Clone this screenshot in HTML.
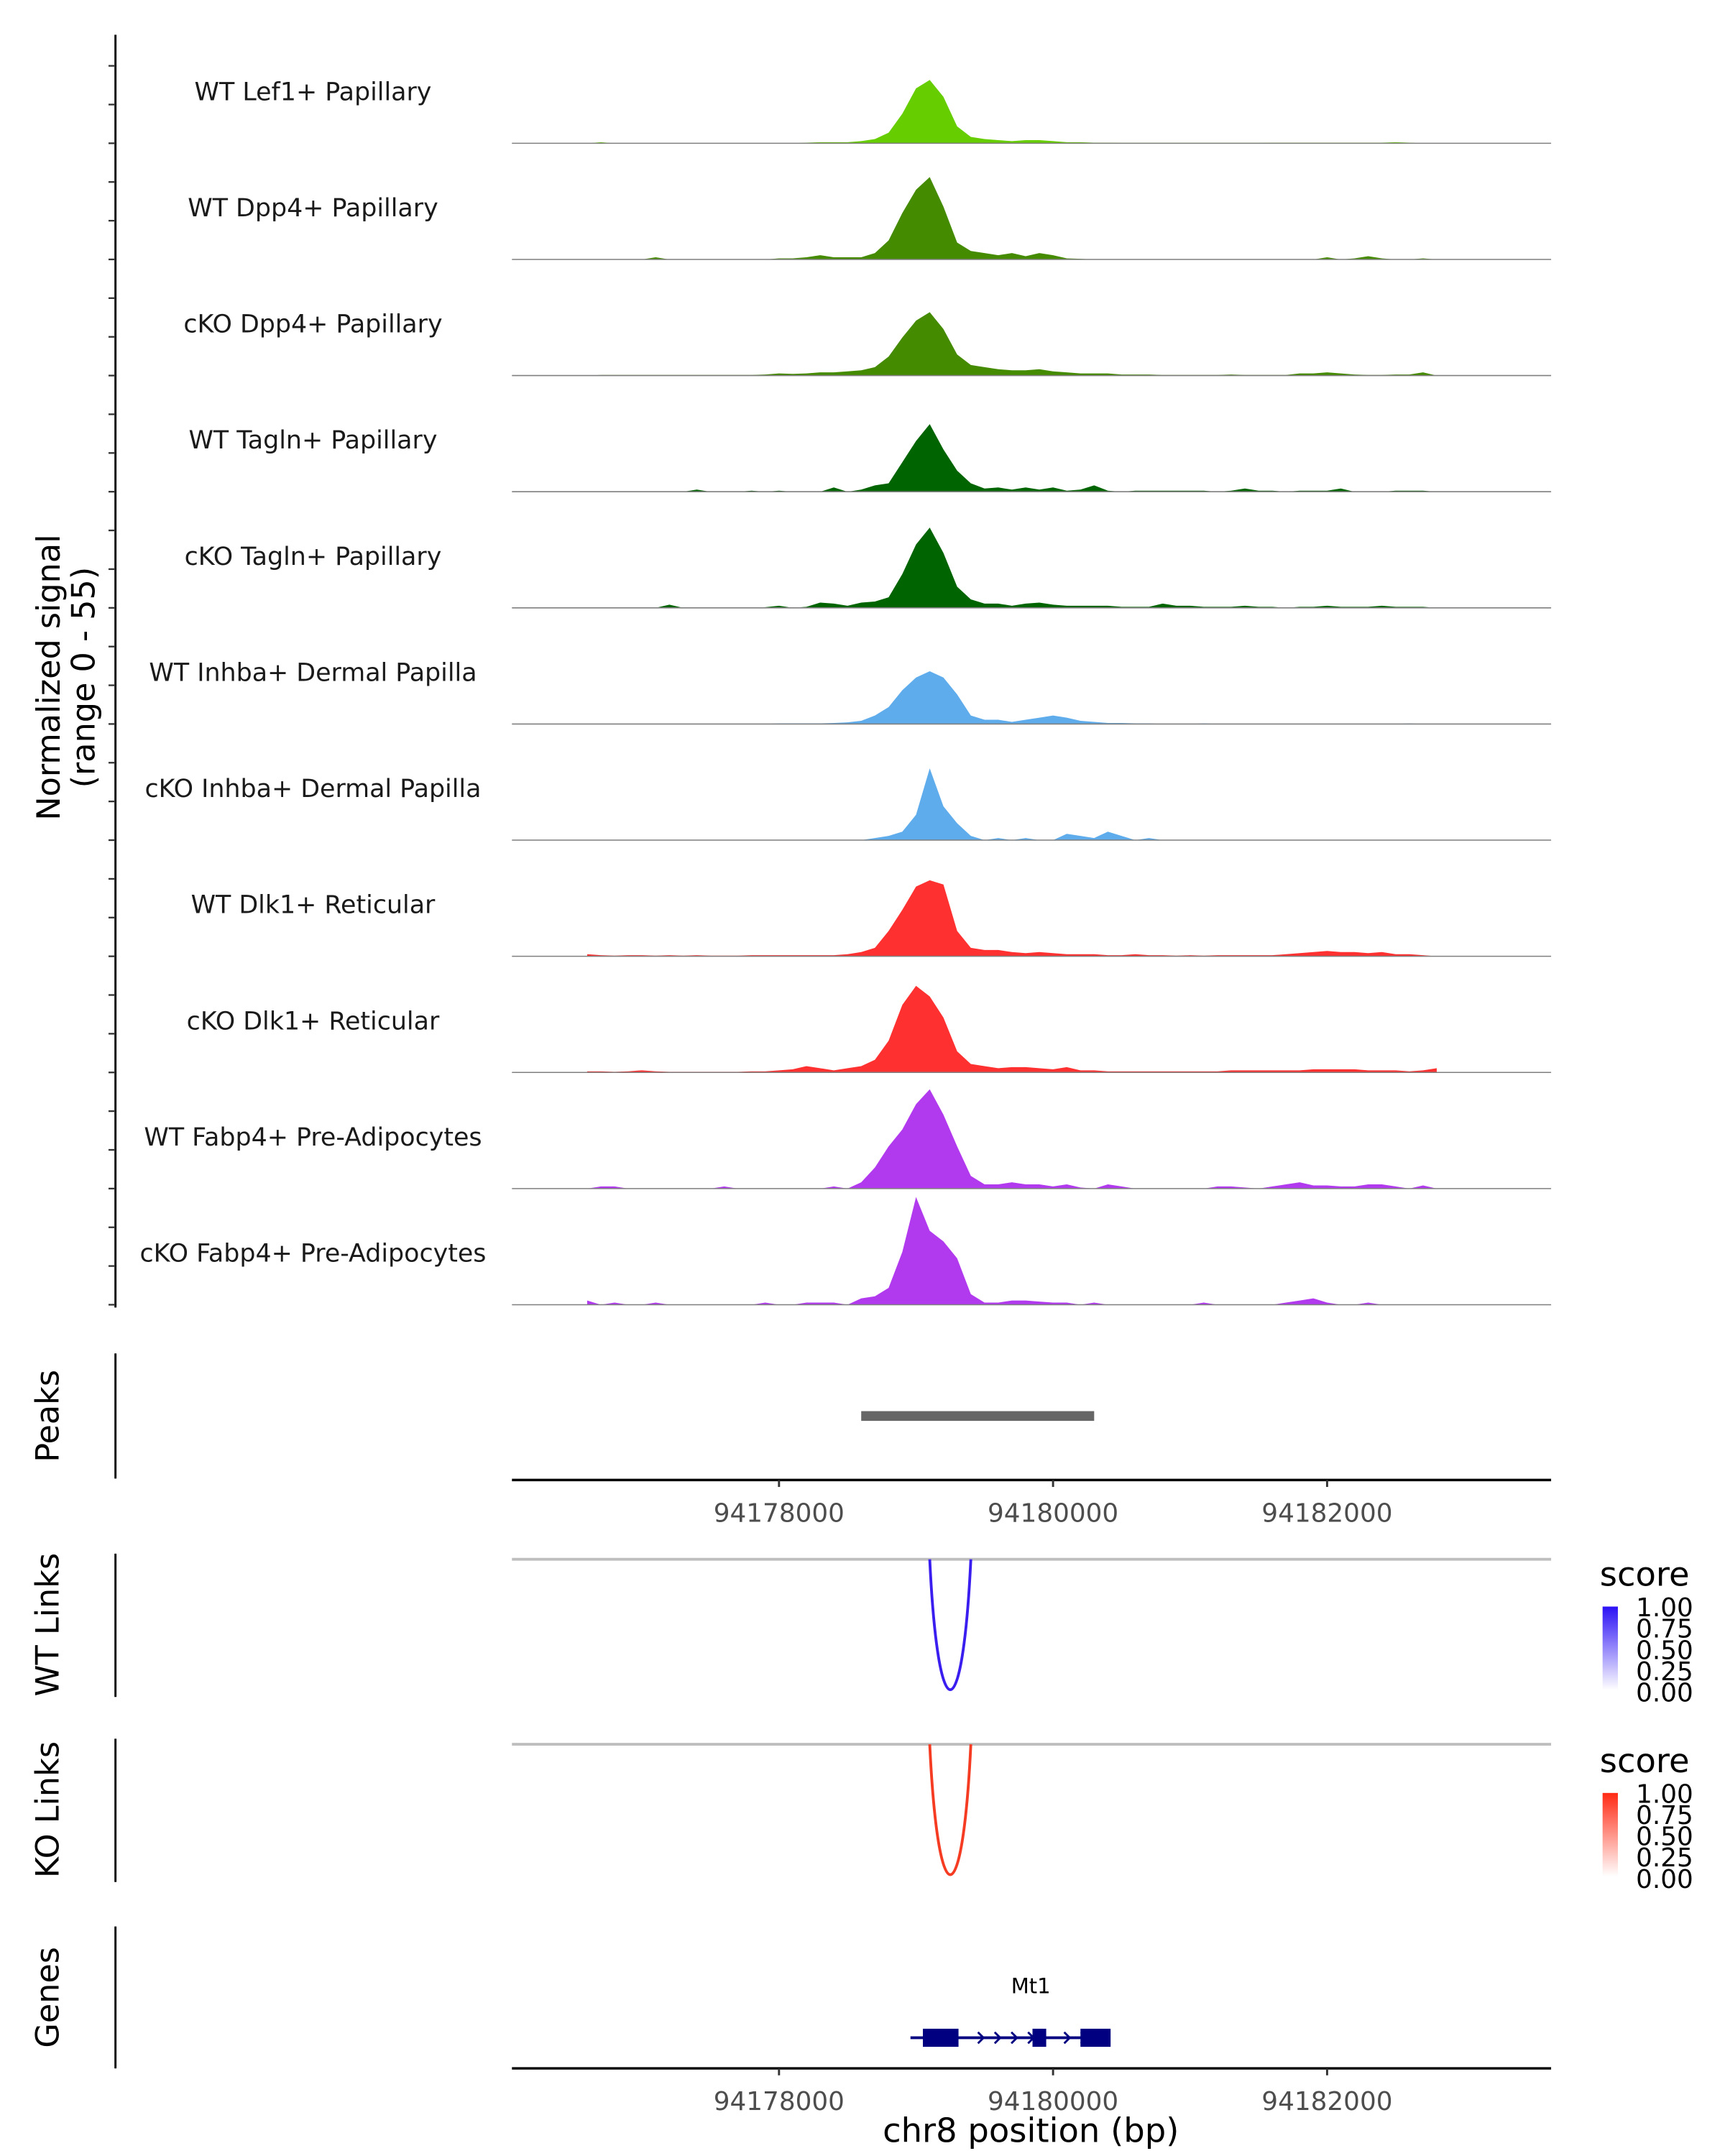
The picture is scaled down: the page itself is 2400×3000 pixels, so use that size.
<!DOCTYPE html>
<html><head><meta charset="utf-8"><style>
html,body{margin:0;padding:0;background:#fff;}
svg{display:block;font-family:"DejaVu Sans","Liberation Sans",sans-serif;}
</style></head><body>
<svg id="chart" width="2400" height="3000" viewBox="0 0 1240 1550" xmlns="http://www.w3.org/2000/svg">
<g id="tracks"></g>
<g id="axes"></g>
</svg>
<script>
const binStart = 94176600;
const binSize = 100;
const trackNames = ["WT Lef1+ Papillary","WT Dpp4+ Papillary","cKO Dpp4+ Papillary","WT Tagln+ Papillary","cKO Tagln+ Papillary","WT Inhba+ Dermal Papilla","cKO Inhba+ Dermal Papilla","WT Dlk1+ Reticular","cKO Dlk1+ Reticular","WT Fabp4+ Pre-Adipocytes","cKO Fabp4+ Pre-Adipocytes"];
const trackColors = ["#66cd00","#458b00","#458b00","#006400","#006400","#5eacec","#5eacec","#ff3030","#ff3030","#b23aee","#b23aee"];
const sLef1WT = [0,0.5,0,0,0,0,0,0,0,0, 0,0,0,0,0,0,0.3,0.5,0.5,0.5, 1,2,5,14,26,30,22,8,3,2, 1.5,1,1.5,1.5,1,0.5,0.5,0.3,0.3,0.2, 0.2,0.2,0.2,0.2,0.2,0.2,0.2,0.2,0.2,0.2, 0.3,0.3,0.3,0.3,0.3,0.3,0.3,0.3,0.3,0.5, 0.3,0,0];
const sDpp4WT = [0,0,0,0,0,1,0,0,0,0, 0,0,0,0,0.5,0.5,1,2,1,1, 1,3,9,22,33,39,25,8,4,3, 2,3,1.5,3,2,0.5,0.3,0,0,0, 0,0,0,0,0,0,0,0,0,0, 0,0,0,0,1,0,0.5,1.5,0.5,0, 0,0.5,0];
const sDpp4KO = [0,0.3,0.3,0.3,0.3,0.3,0.3,0.3,0.3,0.3, 0.3,0.3,0.3,0.5,1,0.8,1,1.5,1.5,2, 2.5,4,9,18,26,30,22,10,5,4, 3,2.5,2.5,3,2,1.5,1,1,1,0.5, 0.5,0.5,0.3,0.3,0.3,0.3,0.3,0.5,0.3,0.3, 0.3,0.3,1,1,1.5,1,0.5,0.3,0.3,0.5, 0.5,1.5,0];
const sTaglnWT = [0,0,0,0,0,0,0,0,1,0, 0,0,0.5,0,0.5,0,0,0,2,0, 1,3,4,14,24,32,20,10,4,1.5, 2,1,2,1,2,0.5,1,3,0.5,0, 0.5,0.5,0.5,0.5,0.5,0.5,0,0.5,1.5,0.5, 0.5,0,0.5,0.5,0.5,1.5,0,0,0,0.5, 0.5,0.5,0];
const sTaglnKO = [0,0,0,0,0,0,1.5,0,0,0, 0,0,0,0.3,1,0,0.5,2.5,2,1, 2.5,3,5,16,30,38,26,10,4,2, 2,1,2,2.5,1.5,1,1,1,1,0.5, 0.5,0.5,2,1,1,0.5,0.5,0.5,1,0.5, 0.5,0,0.5,0.5,1,0.5,0.5,0.5,1,0.5, 0.5,0.5,0];
const sInhbaWT = [0,0,0,0,0,0,0,0,0,0, 0,0,0,0,0.3,0.3,0.3,0.3,0.5,0.8, 1.5,4,8,16,22,25,22,14,4,2, 2,1,2,3,4,3,1.5,1,0.5,0.5, 0.3,0.3,0,0,0,0.3,0,0,0,0, 0,0,0,0,0,0,0,0,0,0, 0.3,0,0];
const sInhbaKO = [0,0,0,0,0,0,0,0,0,0, 0,0,0,0,0,0,0,0,0,0, 0,1,2,4,12,34,16,8,2,0, 1,0,1,0,0,3,2,1,4,2, 0,1,0,0,0,0,0,0,0,0, 0,0,0,0,0,0,0,0,0,0, 0,0,0];
const sDlk1WT = [1,0.5,0.3,0.5,0.5,0.3,0.5,0.3,0.5,0.3, 0.3,0.3,0.5,0.5,0.5,0.5,0.5,0.5,0.5,1, 2,4,12,22,33,36,34,12,4,3, 3,2,1.5,2,1.5,1,1,1,0.5,0.5, 1,0.5,0.5,0.3,0.5,0.3,0.5,0.5,0.5,0.5, 0.5,1,1.5,2,2.5,2,2,1.5,2,1, 1,0.5,0];
const sDlk1KO = [0.5,0.5,0.3,0.5,1,0.5,0.3,0.3,0.3,0.3, 0.3,0.3,0.5,0.5,1,1.5,3,2,1,2, 3,6,15,32,41,36,26,10,4,3, 2,2.5,2.5,2,1.5,2.5,1,1,0.5,0.5, 0.5,0.5,0.5,0.5,0.5,0.5,0.5,1,1,1, 1,1,1,1.5,1.5,1.5,1.5,1,1,1, 0.5,1,2];
const sFabp4WT = [0,1,1,0,0,0,0,0,0,0, 1,0,0,0,0,0,0,0,1,0, 3,10,20,28,40,47,35,20,6,2, 2,3,2,2,1,2,0.5,0,2,1, 0,0,0,0,0,0,1,1,0.5,0, 1,2,3,1.5,1.5,1,1,2,2,1, 0,1.5,0];
const sFabp4KO = [2,0,1,0,0,1,0,0,0,0, 0,0,0,1,0,0,1,1,1,0, 3,4,8,25,51,35,30,22,5,1, 1,2,2,1.5,1,1,0,1,0,0, 0,0,0,0,0,1,0,0,0,0, 0,1,2,3,1,0,0,1,0,0, 0,0,0];
const signals = [sLef1WT,sDpp4WT,sDpp4KO,sTaglnWT,sTaglnKO,sInhbaWT,sInhbaKO,sDlk1WT,sDlk1KO,sFabp4WT,sFabp4KO];
const xTicks = [94178000,94180000,94182000];
const peakRegion = [94178600,94180300];
const linkWT = [94179100,94179400];
const linkKO = [94179100,94179400];
const geneSpan = [94179000,94180400];
const geneExons = [[94179050,94179310],[94179850,94179950],[94180200,94180420]];
const legendTicks = ["1.00","0.75","0.50","0.25","0.00"];

const NS="http://www.w3.org/2000/svg";
const X0=368, X1=1115, BP0=94176051, PXPB=0.0985;
function xs(bp){return X0+(bp-BP0)*PXPB;}
const trackH=83.5, firstBase=103, yMax=55;
function ys(v,k){return firstBase+k*trackH - v*(trackH/yMax);}
function mk(tag,attrs,parent){const e=document.createElementNS(NS,tag);for(const k in attrs)e.setAttribute(k,attrs[k]);parent.appendChild(e);return e;}
const T=document.getElementById('tracks'), A=document.getElementById('axes');

signals.forEach((s,k)=>{
  const base=firstBase+k*trackH;
  let d='M'+xs(binStart)+','+base;
  s.forEach((v,i)=>{d+=' L'+xs(binStart+i*binSize).toFixed(2)+','+ys(v,k).toFixed(2);});
  d+=' L'+xs(binStart+(s.length-1)*binSize)+','+base+' Z';
  const p=mk('path',{d:d,fill:trackColors[k]},T);
  
  
  const bl=mk('line',{x1:X0,x2:X1,y1:base,y2:base,stroke:'#7f7f7f','stroke-width':0.8},T);
  
  
  const t=mk('text',{x:225,y:base-31,'font-size':18,'text-anchor':'middle',fill:'#1a1a1a'},T);
  t.textContent=trackNames[k];
  
  
});
let ax=mk('line',{x1:83,x2:83,y1:25,y2:940,stroke:'#000','stroke-width':1.5},A);


for(let k=0;k<signals.length;k++){for(let j=0;j<3;j++){
  const y=firstBase+k*trackH-j*trackH/3;
  const tk=mk('line',{x1:78,x2:83,y1:y,y2:y,stroke:'#333','stroke-width':1.2},A);
  
  
}}
function vtitle(lines,x,y,name){
  const t=mk('text',{transform:'translate('+x+','+y+') rotate(-90)','font-size':23,'text-anchor':'middle',fill:'#000'},A);
  lines.forEach((l,i)=>{const ts=mk('tspan',{x:0,dy:i?25:0},t);ts.textContent=l;});
  
  
}
vtitle(["Normalized signal","(range 0 - 55)"],43,487,'y-axis-title');
function vline(y1,y2,name){const l=mk('line',{x1:83,x2:83,y1:y1,y2:y2,stroke:'#000','stroke-width':1.5},A);}
vline(973,1063,'peaks-axis-line');
vtitle(["Peaks"],42,1018,'peaks-title');
let pk=mk('rect',{x:xs(peakRegion[0]),y:1014.5,width:xs(peakRegion[1])-xs(peakRegion[0]),height:7,fill:'#666'},A);


function xaxis(y,name){
  const l=mk('line',{x1:X0,x2:X1,y1:y,y2:y,stroke:'#000','stroke-width':1.8},A);
  
  
  xTicks.forEach(v=>{
    const tk=mk('line',{x1:xs(v),x2:xs(v),y1:y,y2:y+5,stroke:'#333','stroke-width':1.5},A);
    
    
    const t=mk('text',{x:xs(v),y:y+30,'font-size':18.5,'text-anchor':'middle',fill:'#4d4d4d'},A);
    t.textContent=v;
    
    
  });
}
xaxis(1064,'peaks-x-axis');
function links(top,span,color,title,name,legTop,gradId,c1){
  vline(top-4,top+99,name+'-axis-line');
  vtitle([title],42,top+47,name+'-title');
  const g=mk('line',{x1:X0,x2:X1,y1:top,y2:top,stroke:'#bebebe','stroke-width':2},A);
  
  
  const a=xs(span[0]),b=xs(span[1]);
  const arc=mk('path',{d:'M'+a+','+top+' C'+(a+6)+','+(top+125)+' '+(b-6)+','+(top+125)+' '+b+','+top,fill:'none',stroke:color,'stroke-width':2},A);
  
  
  const st=mk('text',{x:1150,y:legTop,'font-size':24,fill:'#000'},A);
  st.textContent='score';
  
  
  const defs=mk('defs',{},A);
  const lg=mk('linearGradient',{id:gradId,x1:0,y1:1,x2:0,y2:0},defs);
  mk('stop',{offset:0,'stop-color':'#ffffff'},lg);
  mk('stop',{offset:1,'stop-color':c1},lg);
  const bar=mk('rect',{x:1152,y:legTop+15,width:11,height:60,fill:'url(#'+gradId+')'},A);
  
  
  legendTicks.forEach((l,i)=>{
    const t=mk('text',{x:1176,y:legTop+22+i*15.3,'font-size':18.5,fill:'#000'},A);
    t.textContent=l;
    
    
  });
}
links(1121,linkWT,'#3a1ef0','WT Links','wt-links',1140,'gW','#2b11f5');
links(1254,linkKO,'#f53c23','KO Links','ko-links',1274,'gK','#ff2a14');
vline(1385,1487,'genes-axis-line');
vtitle(["Genes"],42,1436,'genes-title');
const gl=mk('line',{x1:xs(geneSpan[0])-4,x2:xs(geneSpan[1]),y1:1465,y2:1465,stroke:'#000080','stroke-width':2},A);


[705,717,729,741,767,779].forEach(x=>{
  const c=mk('path',{d:'M'+(x-2)+',1461 L'+(x+2)+',1465 L'+(x-2)+',1469',fill:'none',stroke:'#000080','stroke-width':1.5},A);
  
  
});
geneExons.forEach(e=>{
  const r=mk('rect',{x:xs(e[0]),y:1458.5,width:xs(e[1])-xs(e[0]),height:13,fill:'#000080'},A);
  
  
});
const gn=mk('text',{x:741,y:1433,'font-size':15,'text-anchor':'middle',fill:'#000'},A);
gn.textContent='Mt1';


xaxis(1487,'genes-x-axis');
const xt=mk('text',{x:741,y:1540,'font-size':24,'text-anchor':'middle',fill:'#000'},A);
xt.textContent='chr8 position (bp)';


</script>
</body></html>
